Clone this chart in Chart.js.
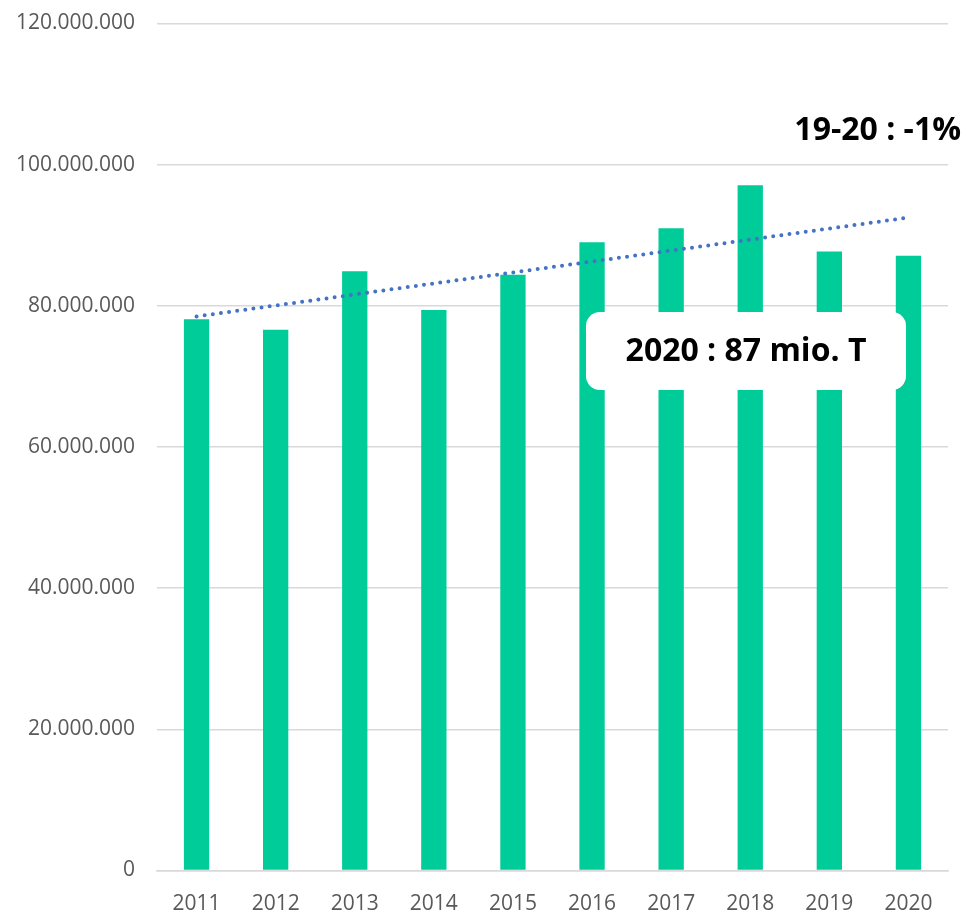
<!DOCTYPE html>
<html>
<head>
<meta charset="utf-8">
<script src="https://cdn.jsdelivr.net/npm/chart.js@4"></script>
<style>
  html, body { margin: 0; padding: 0; background: #fff; }
  #wrap { width: 969px; height: 913px; position: relative; }
</style>
</head>
<body>
<div id="wrap"><canvas id="chart"></canvas></div>
<script>
const years = ["2011", "2012", "2013", "2014", "2015", "2016", "2017", "2018", "2019", "2020"];
const tonnes = [78.1e6, 76.6e6, 84.9e6, 79.4e6, 84.4e6, 89.0e6, 91.0e6, 97.1e6, 87.7e6, 87.1e6];
// linear trend, only the two end points
const trend = [78.5e6, null, null, null, null, null, null, null, null, 92.5e6];
const changeLabel = "19-20 : -1%";
const boxLabel = "2020 : 87 mio. T";

const fontFamily = "'Open Sans', sans-serif";

const annotations = {
  id: "annotations",
  afterDatasetsDraw(chart) {
    const { ctx } = chart;
    ctx.save();
    ctx.fillStyle = "#000";
    ctx.font = `bold 32px ${fontFamily}`;
    ctx.textAlign = "right";
    ctx.textBaseline = "middle";
    ctx.fillText(changeLabel, 961, 131);

    const x = 586, y = 312, w = 320, h = 78;
    ctx.beginPath();
    ctx.roundRect(x, y, w, h, 14);
    ctx.fillStyle = "#fff";
    ctx.fill();
    ctx.fillStyle = "#000";
    ctx.textAlign = "center";
    ctx.fillText(boxLabel, x + w / 2, y + h / 2 + 1);
    ctx.restore();
  },
};

new Chart(document.getElementById("chart"), {
  type: "bar",
  data: {
    labels: years,
    datasets: [
      {
        type: "line",
        label: "Trend",
        data: trend,
        spanGaps: true,
        order: 0,
        borderColor: "#4472C4",
        borderWidth: 4,
        borderDash: [0, 8.2],
        borderCapStyle: "round",
        pointRadius: 0,
        fill: false,
      },
      {
        label: "Tonnes",
        data: tonnes,
        order: 1,
        backgroundColor: "#00CC99",
        barPercentage: 0.32,
        categoryPercentage: 1,
      },
    ],
  },
  options: {
    responsive: true,
    maintainAspectRatio: false,
    animation: false,
    layout: { padding: { top: 23.5, right: 21, bottom: 0, left: 0 } },
    plugins: {
      legend: { display: false },
      tooltip: { enabled: false },
    },
    scales: {
      x: {
        afterFit: (scale) => { scale.height = 42.5; },
        grid: { display: false, drawTicks: false },
        border: { color: "#d9d9d9", width: 1.5 },
        ticks: {
          color: "#595959",
          font: { family: fontFamily, size: 21 },
          padding: 21,
          maxRotation: 0,
        },
      },
      y: {
        min: 0,
        max: 120e6,
        afterFit: (scale) => { scale.width = 157; },
        grid: {
          color: "#d9d9d9",
          lineWidth: 1.5,
          drawTicks: true,
          tickLength: 22,
          tickColor: "rgba(0,0,0,0)",
        },
        border: { display: false },
        ticks: {
          stepSize: 20e6,
          color: "#595959",
          font: { family: fontFamily, size: 21 },
          padding: 0,
          callback: (value) => value.toLocaleString("de-DE"),
        },
      },
    },
  },
  plugins: [annotations],
});
</script>
</body>
</html>
